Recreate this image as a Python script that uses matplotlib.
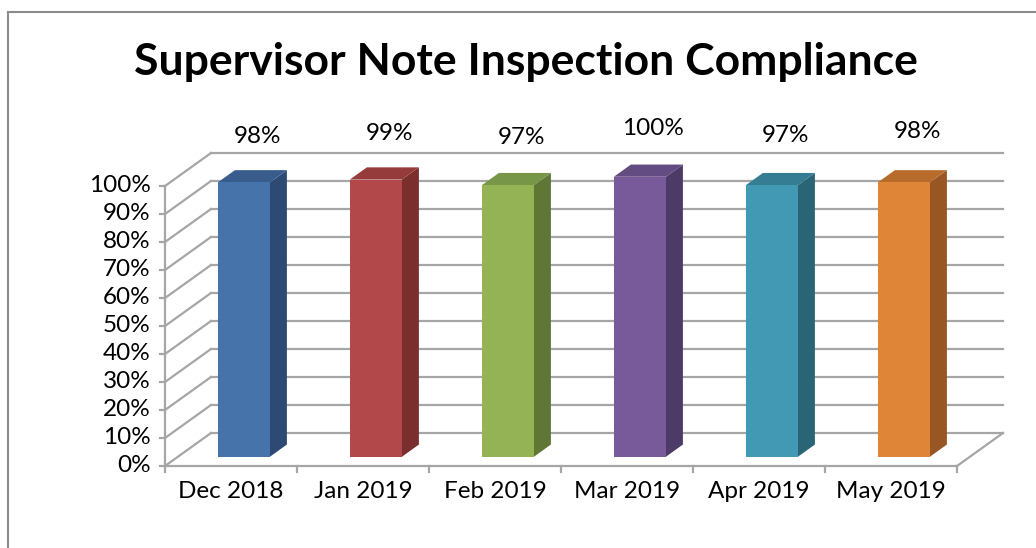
import matplotlib
matplotlib.use("Agg")
import matplotlib.pyplot as plt
from matplotlib.patches import Polygon
from matplotlib.lines import Line2D

# ---- data ----
categories = ["Dec 2018", "Jan 2019", "Feb 2019", "Mar 2019", "Apr 2019", "May 2019"]
values = [98, 99, 97, 100, 97, 98]
value_labels = ["98%", "99%", "97%", "100%", "97%", "98%"]
y_ticks = [0, 10, 20, 30, 40, 50, 60, 70, 80, 90, 100]
y_tick_labels = [f"{t}%" for t in y_ticks]
title = "Supervisor Note Inspection Compliance"

# colours (front, side, top)
front_colors = ["#4573AA", "#B2484A", "#93B355", "#785A9A", "#4299B3", "#DE8538"]
side_colors = ["#2C4A73", "#7A2E2E", "#5F7634", "#4C3A67", "#2A6477", "#985624"]
top_colors = ["#385C8C", "#963B3B", "#789647", "#634C82", "#347D93", "#B86C2C"]

FONT = "Lato"
W, H = 1036, 548
fig = plt.figure(figsize=(W / 100, H / 100), dpi=100)
fig.patch.set_facecolor("white")

# plot area (front plane)
left_px, right_px, bottom_px, top_px = 165, 957, 466, 186
ax = fig.add_axes([left_px / W, 1 - bottom_px / H, (right_px - left_px) / W, (bottom_px - top_px) / H])
ax.set_xlim(-0.5, len(categories) - 0.5)
ax.set_ylim(0, 100)
ax.axis("off")

# 3D depth offsets (in data units)
DX = 46 / 132.0
DY = 33 / 2.8
grid_color = "#A6A6A6"
lw = 1.6

def P(x, v, d):
    return (x + d * DX, v + d * DY)

x0, x1 = -0.5, len(categories) - 0.5
# back wall grid & left wall slants
for t, lab in zip(y_ticks, y_tick_labels):
    a = P(x0, t, 1); b = P(x1, t, 1)
    ax.add_line(Line2D([a[0], b[0]], [a[1], b[1]], color=grid_color, lw=lw, clip_on=False, zorder=1))
    a = P(x0, t, 0); b = P(x0, t, 1)
    ax.add_line(Line2D([a[0], b[0]], [a[1], b[1]], color=grid_color, lw=lw, clip_on=False, zorder=1))
    ax.add_line(Line2D([x0 - 0.04, x0], [t, t], color=grid_color, lw=lw, clip_on=False, zorder=1))
    ax.text(x0 - 0.11, t, lab, ha="right", va="center", fontsize=17.5, family=FONT, color="black")

# floor: front edge and right slant
ax.add_line(Line2D([x0, x1], [0, 0], color=grid_color, lw=lw, clip_on=False, zorder=1))
a = P(x1, 0, 0); b = P(x1, 0, 1)
ax.add_line(Line2D([a[0], b[0]], [a[1], b[1]], color=grid_color, lw=lw, clip_on=False, zorder=1))
# vertical axis
ax.add_line(Line2D([x0, x0], [0, 100], color=grid_color, lw=lw, clip_on=False, zorder=1))
# category ticks
for i in range(len(categories) + 1):
    xt = x0 + i
    ax.add_line(Line2D([xt, xt], [0, -2.2], color=grid_color, lw=lw, clip_on=False, zorder=1))
for i, c in enumerate(categories):
    ax.text(i, -9, c, ha="center", va="center", fontsize=17.5, family=FONT, color="black")

# bars
F0 = 0.28
BD = 0.37
HW = 0.197
for i, v in enumerate(values):
    cx = i
    xl, xr = cx - HW, cx + HW
    front = [P(xl, 0, F0), P(xr, 0, F0), P(xr, v, F0), P(xl, v, F0)]
    side = [P(xr, 0, F0), P(xr, 0, F0 + BD), P(xr, v, F0 + BD), P(xr, v, F0)]
    top = [P(xl, v, F0), P(xr, v, F0), P(xr, v, F0 + BD), P(xl, v, F0 + BD)]
    ax.add_patch(Polygon(side, closed=True, facecolor=side_colors[i], edgecolor="none", zorder=3, clip_on=False))
    ax.add_patch(Polygon(top, closed=True, facecolor=top_colors[i], edgecolor="none", zorder=3, clip_on=False))
    ax.add_patch(Polygon(front, closed=True, facecolor=front_colors[i], edgecolor="none", zorder=4, clip_on=False))
    ax.text(cx + 0.2, v + 19.5 + 0.4 * i, value_labels[i], ha="center", va="center",
            fontsize=17.5, family=FONT, color="black", zorder=5)

# title
fig.text(525.5 / W, 1 - 75 / H, title, ha="center", va="baseline", fontsize=32,
         fontweight="bold", family=FONT, color="black")

# outer border (partially visible)
bx, by = 8 / W, 1 - 12 / H
fig.add_artist(Line2D([bx, bx], [0, by], transform=fig.transFigure, color="#8C8C8C", lw=1.5))
fig.add_artist(Line2D([bx, 1], [by, by], transform=fig.transFigure, color="#8C8C8C", lw=1.5))

fig.savefig("out.png", dpi=100, facecolor="white")
